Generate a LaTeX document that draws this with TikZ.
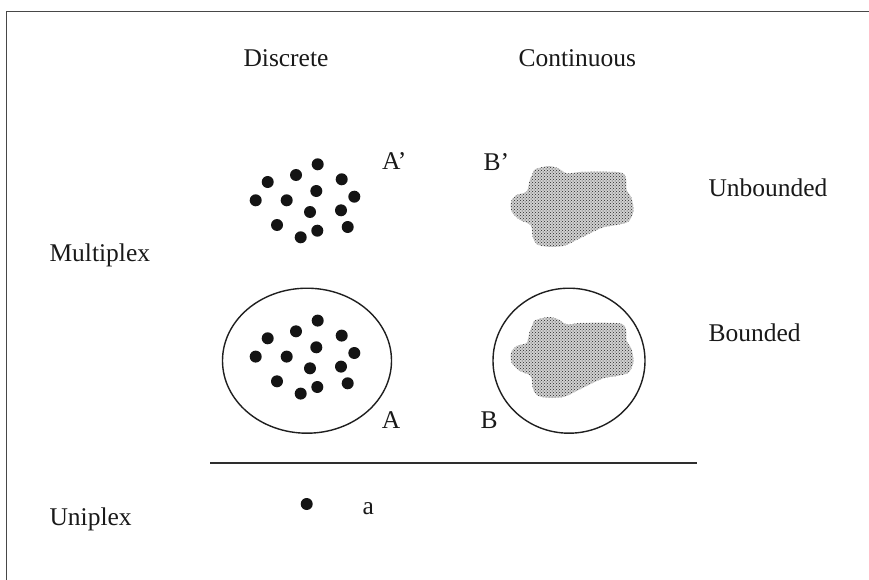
\documentclass[tikz,border=0pt]{standalone}
\usepackage{fontspec}
\setmainfont{Liberation Serif}
\usetikzlibrary{patterns,shapes.geometric}
\tikzset{
  lbl/.style={anchor=base west,inner sep=0pt,text=black!90,font=\fontsize{25.5}{30}\selectfont},
  dot/.style={circle,fill=black!92,minimum size=12pt,inner sep=0pt},
  ring/.style={ellipse,draw=black!88,line width=1.4pt,inner sep=0pt},
  blobbase/.style={fill=black!18},
  blob/.style={pattern=crosshatch dots,pattern color=black!85},
  frameline/.style={draw=black!72,line width=1.7pt}
}
\newcommand{\dotcloud}[3]{%
  \foreach \px/\py [count=\k] in {317.7/164.3,296/175,267.7/182,341.7/179.3,316.3/191,255.7/200.3,286.7/200.3,354.3/196.7,310/212,341/210.3,277/225,317.3/230.7,300.7/237.3,347.7/227}
    \node[dot] (#1\k) at (\px+#2,\py+#3) {};}
\newcommand{\blobpath}[2]{%
  plot[smooth cycle,tension=0.5] coordinates {
    (535+#1,169.3+#2) (548.3+#1,166+#2) (558.3+#1,168.3+#2) (566.7+#1,173.3+#2)
    (580+#1,172+#2) (603.3+#1,171.7+#2) (621.7+#1,172.7+#2) (626+#1,178.3+#2)
    (626.7+#1,190+#2) (631.7+#1,198.3+#2) (633.3+#1,211.7+#2) (628.3+#1,221.7+#2)
    (616.7+#1,225+#2) (603.3+#1,227.3+#2) (590+#1,233.3+#2) (576.7+#1,240+#2)
    (563.3+#1,246+#2) (546.7+#1,246.7+#2) (536.7+#1,244+#2) (532.7+#1,236.7+#2)
    (530.7+#1,225+#2) (520+#1,220+#2) (511.7+#1,211.7+#2) (511+#1,201.7+#2)
    (516.7+#1,195+#2) (526.7+#1,191.7+#2) (529.3+#1,181.7+#2) (532.7+#1,173.3+#2)}}
\newcommand{\stipple}[2]{%
  \path[blobbase] \blobpath{#1}{#2};
  \path[blob] \blobpath{#1}{#2};}
\begin{document}
\begin{tikzpicture}[x=1pt,y=-1pt]
\useasboundingbox (0,0) rectangle (869,580);
\fill[white] (0,0) rectangle (869,580);
% frame
\coordinate (fc) at (6.5,11.5);
\coordinate (fr) at (869,11.5);
\coordinate (fb) at (6.5,580);
\draw[frameline] (fr) -- (fc) -- (fb);
% headings
\node[lbl] (discrete) at (243.3,66.7) {Discrete};
\node[lbl] (continuous) at (518.3,66.7) {Continuous};
\node[lbl] (unbounded) at (708.3,196.7) {Unbounded};
\node[lbl] (bounded) at (708.3,341.7) {Bounded};
\node[lbl] (multiplex) at (49.3,261.7) {Multiplex};
\node[lbl] (uniplex) at (49.3,525) {Uniplex};
% unbounded discrete
\dotcloud{ud}{0}{0}
\node[lbl] (Ap) at (382,170) {A’};
% unbounded continuous
\stipple{0}{0}
\node[lbl] (Bp) at (483.3,170.7) {B’};
% bounded discrete
\node[ring,minimum width=169pt,minimum height=145pt] (ringA) at (307,360.7) {};
\dotcloud{bd}{0}{156.3}
\node[lbl] (A) at (381.7,428.3) {A};
% bounded continuous
\node[ring,minimum width=152pt,minimum height=145pt] (ringB) at (569,360.7) {};
\stipple{0}{151}
\node[lbl] (B) at (480.5,428.3) {B};
% separator
\coordinate (sl) at (210,462.7);
\coordinate (sr) at (697.3,462.7);
\draw[draw=black!82,line width=1.6pt] (sl) -- (sr);
% uniplex
\node[dot] (single) at (306.7,504) {};
\node[lbl] (a) at (362.3,514) {a};
\end{tikzpicture}
\end{document}
